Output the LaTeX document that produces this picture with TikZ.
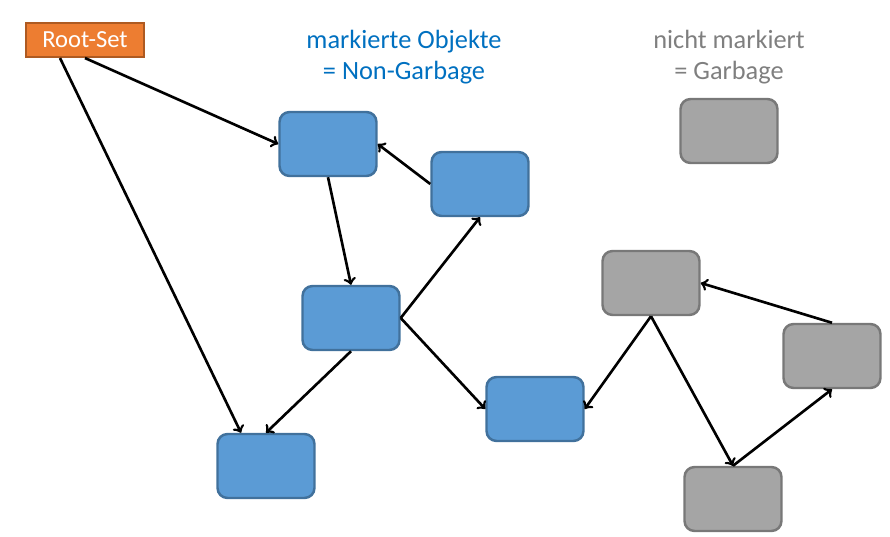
\documentclass[tikz,border=0pt]{standalone}
\usepackage{fontspec}
\setmainfont{Carlito}
\usepackage{tikz}

\definecolor{objblue}{HTML}{5B9BD5}
\definecolor{objblueline}{HTML}{41719C}
\definecolor{objgray}{HTML}{A5A5A5}
\definecolor{objgrayline}{HTML}{787878}
\definecolor{rootorange}{HTML}{ED7D31}
\definecolor{rootline}{HTML}{AE5A21}
\definecolor{titleblue}{HTML}{0070C0}
\definecolor{titlegray}{HTML}{7F7F7F}

\begin{document}
\begin{tikzpicture}[x=0.02cm,y=-0.02cm,
  obj/.style={draw=objblueline, fill=objblue, line width=1.4pt, rounded corners=0.2cm, minimum width=1.94cm, minimum height=1.28cm},
  garb/.style={obj, draw=objgrayline, fill=objgray},
  ref/.style={line width=1.5pt, ->}]
\useasboundingbox (0,0) rectangle (890,537);

\node[draw=rootline, fill=rootorange, line width=1.2pt, minimum width=2.36cm, minimum height=0.68cm, text=white, font=\fontsize{14}{16}\selectfont] (root) at (85,40) {Root-Set};

\node[align=center, text=titleblue, font=\fontsize{15}{17.6}\selectfont] (marked) at (404,57) {markierte Objekte\\= Non-Garbage};
\node[align=center, text=titlegray, font=\fontsize{15}{17.6}\selectfont] (unmarked) at (729,57) {nicht markiert\\= Garbage};

\node[obj] (b1) at (328,144) {};
\node[obj] (b2) at (480,184) {};
\node[obj] (b3) at (351,318) {};
\node[obj] (b4) at (266,466) {};
\node[obj] (b5) at (535,409) {};

\node[garb] (g0) at (729,131) {};
\node[garb] (g1) at (651,283) {};
\node[garb] (g2) at (832,356) {};
\node[garb] (g3) at (733,499) {};

\draw[ref] (root.south) -- (b1.west);
\draw[ref] ([xshift=-0.5cm]root.south) -- ([xshift=-0.5cm]b4.north);
\draw[ref] (b2.west) -- (b1.east);
\draw[ref] (b1.south) -- (b3.north);
\draw[ref] (b3.east) -- (b2.south);
\draw[ref] (b3.east) -- (b5.west);
\draw[ref] (b3.south) -- (b4.north);
\draw[ref] (g1.south) -- (b5.east);
\draw[ref] (g1.south) -- (g3.north);
\draw[ref] (g3.north) -- (g2.south);
\draw[ref] (g2.north) -- (g1.east);
\end{tikzpicture}
\end{document}
